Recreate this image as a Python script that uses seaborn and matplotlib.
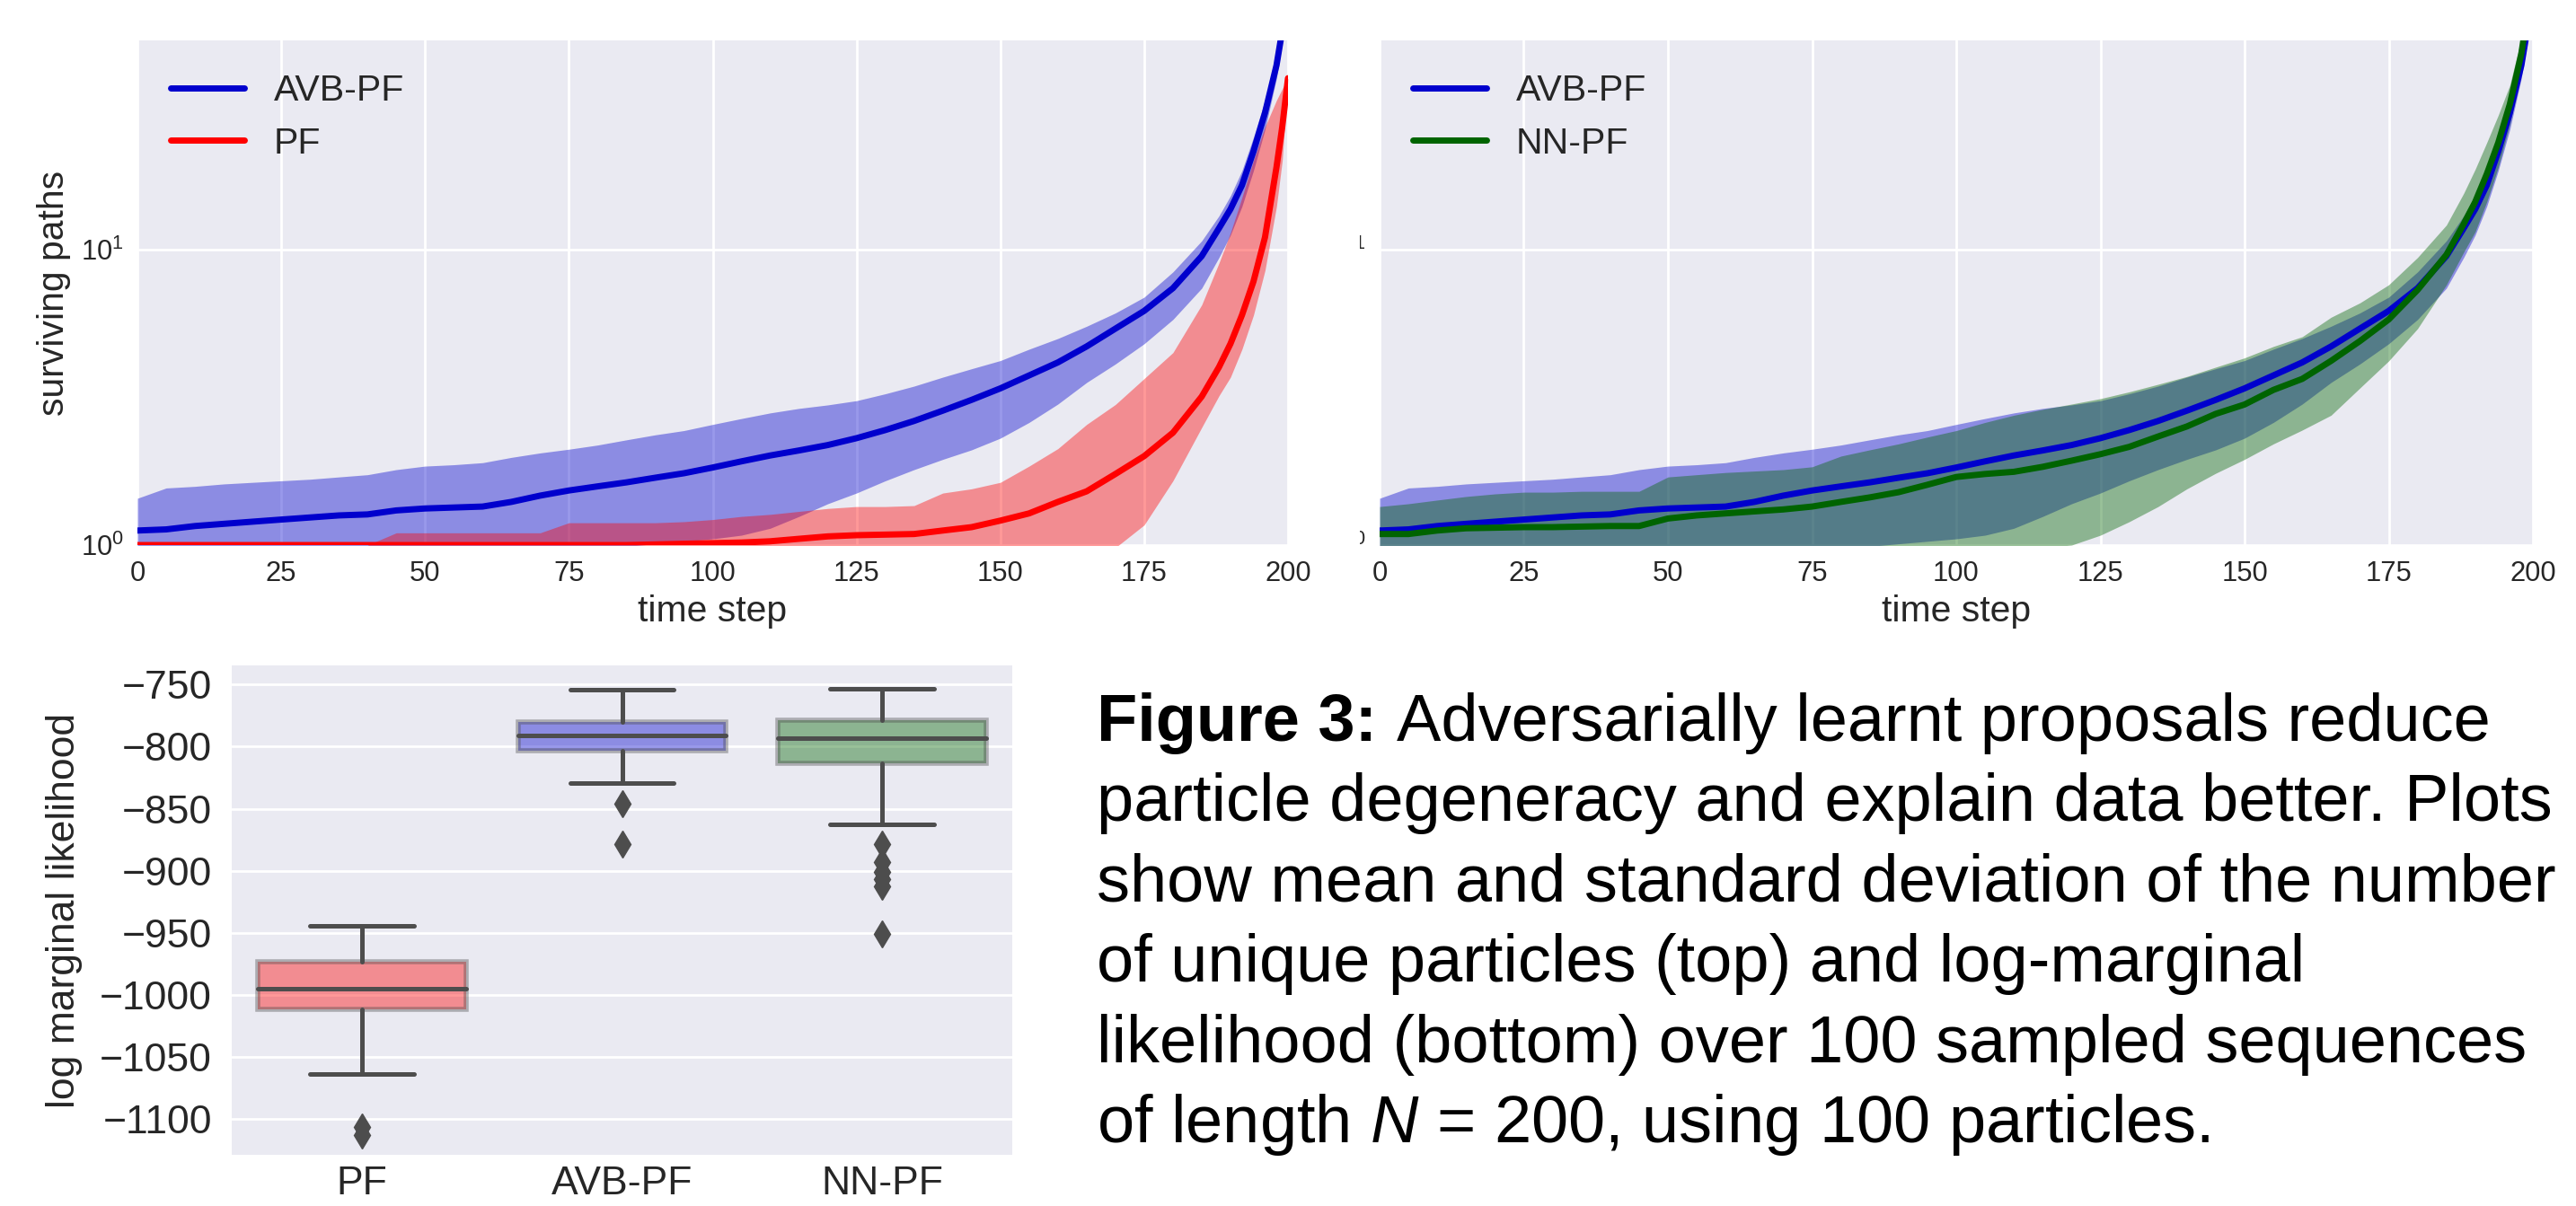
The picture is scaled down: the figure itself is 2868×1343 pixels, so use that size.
import numpy as np
import pandas as pd
import matplotlib
matplotlib.use("Agg")
import matplotlib.pyplot as plt
import seaborn as sns
from matplotlib.transforms import Bbox, TransformedBbox

# ---------------- data ----------------
t = [0, 5, 10, 15, 20, 25, 30, 35, 40, 45, 50, 55, 60, 65, 70, 75, 80, 85, 90, 95,
     100, 105, 110, 115, 120, 125, 130, 135, 140, 145, 150, 155, 160, 165, 170, 175,
     180, 185, 188, 190, 192, 194, 196, 198, 199, 200]

avb_mean = [1.12, 1.13, 1.16, 1.18, 1.20, 1.22, 1.24, 1.26, 1.27, 1.31,
            1.33, 1.34, 1.35, 1.40, 1.47, 1.53, 1.58, 1.63, 1.69, 1.75,
            1.83, 1.92, 2.01, 2.09, 2.18, 2.30, 2.45, 2.63, 2.85, 3.10,
            3.39, 3.75, 4.15, 4.70, 5.40, 6.20, 7.40, 9.50,
            11.8, 13.7, 16.5, 21.5, 29.0, 42.0, 55.0, 100.0]
avb_upper = [1.44, 1.56, 1.58, 1.61, 1.63, 1.65, 1.67, 1.70, 1.73, 1.80,
             1.85, 1.87, 1.90, 1.98, 2.05, 2.11, 2.18, 2.27, 2.36, 2.44,
             2.56, 2.68, 2.80, 2.90, 2.98, 3.08, 3.25, 3.45, 3.70, 3.95,
             4.21, 4.60, 5.00, 5.50, 6.10, 6.90, 8.40, 10.7,
             13.0, 15.2, 18.5, 24.0, 32.0, 46.0, 60.0, 100.0]
avb_lower = [0.80, 0.72, 0.74, 0.75, 0.77, 0.79, 0.81, 0.82, 0.81, 0.82,
             0.81, 0.81, 0.80, 0.82, 0.89, 0.95, 0.98, 0.99, 1.01, 1.03,
             1.05, 1.08, 1.14, 1.25, 1.38, 1.50, 1.65, 1.80, 1.95, 2.10,
             2.30, 2.60, 3.00, 3.55, 4.10, 4.80, 5.80, 7.40,
             9.40, 11.2, 14.0, 18.5, 25.5, 38.0, 50.0, 100.0]

pf_mean = [1.0, 1.0, 1.0, 1.0, 1.0, 1.0, 1.0, 1.0, 1.0, 1.0,
           1.0, 1.0, 1.0, 1.0, 1.0, 1.0, 1.0, 1.0, 1.005, 1.01,
           1.015, 1.02, 1.03, 1.05, 1.07, 1.08, 1.085, 1.09, 1.12, 1.15,
           1.21, 1.28, 1.40, 1.52, 1.74, 2.00, 2.40, 3.18,
           4.0, 4.8, 6.0, 7.8, 11.0, 19.0, 26.0, 38.0]
pf_upper = [1.0, 1.0, 1.0, 1.0, 1.0, 1.0, 1.0, 1.0, 1.0, 1.10,
            1.10, 1.10, 1.10, 1.10, 1.10, 1.19, 1.19, 1.19, 1.19, 1.20,
            1.22, 1.25, 1.27, 1.30, 1.33, 1.35, 1.35, 1.36, 1.50, 1.55,
            1.63, 1.85, 2.12, 2.56, 2.99, 3.66, 4.48, 6.50,
            9.0, 11.4, 15.0, 20.0, 26.0, 32.0, 35.0, 38.0]
pf_lower = [1.0, 1.0, 1.0, 1.0, 1.0, 1.0, 1.0, 1.0, 1.0, 0.90,
            0.90, 0.90, 0.90, 0.90, 0.90, 0.90, 0.90, 0.90, 0.90, 0.90,
            0.90, 0.90, 0.90, 0.90, 0.90, 0.90, 0.90, 0.90, 0.90, 0.90,
            0.90, 0.90, 0.90, 0.90, 0.98, 1.17, 1.65, 2.50,
            3.2, 3.7, 4.6, 6.0, 8.5, 14.0, 20.0, 38.0]

nn_mean = [1.09, 1.09, 1.12, 1.14, 1.145, 1.15, 1.15, 1.155, 1.16, 1.16,
           1.23, 1.26, 1.28, 1.30, 1.32, 1.35, 1.40, 1.45, 1.51, 1.60,
           1.70, 1.74, 1.77, 1.84, 1.93, 2.03, 2.15, 2.33, 2.52, 2.78,
           2.99, 3.35, 3.65, 4.20, 4.90, 5.80, 7.30, 9.60,
           12.2, 14.5, 18.0, 23.0, 31.0, 46.0, 62.0, 100.0]
nn_upper = [1.35, 1.38, 1.42, 1.46, 1.49, 1.51, 1.51, 1.52, 1.52, 1.52,
            1.70, 1.73, 1.76, 1.78, 1.80, 1.84, 2.00, 2.10, 2.20, 2.32,
            2.44, 2.60, 2.75, 2.88, 3.00, 3.13, 3.30, 3.50, 3.72, 4.00,
            4.30, 4.70, 5.07, 5.90, 6.60, 7.60, 9.40, 12.1,
            15.5, 18.7, 23.0, 28.5, 36.0, 52.0, 70.0, 100.0]
nn_lower = [0.83, 0.80, 0.82, 0.82, 0.80, 0.79, 0.79, 0.79, 0.80, 0.80,
            0.76, 0.79, 0.80, 0.82, 0.84, 0.86, 0.80, 0.80, 0.82, 0.88,
            0.93, 0.95, 0.96, 0.98, 1.00, 1.08, 1.20, 1.35, 1.55, 1.75,
            1.95, 2.20, 2.45, 2.75, 3.40, 4.20, 5.40, 7.60,
            9.8, 11.5, 14.5, 19.0, 26.5, 40.0, 54.0, 100.0]

x_ticks = [0, 25, 50, 75, 100, 125, 150, 175, 200]

box_labels = ["PF", "AVB-PF", "NN-PF"]
box_whislo = [-1063.6, -829.4, -862.6]
box_q1 = [-1011.7, -803.6, -813.1]
box_med = [-994.5, -791.2, -793.3]
box_q3 = [-973.2, -780.0, -778.5]
box_whishi = [-944.4, -754.4, -753.3]
box_fliers = [[-1106.5, -1112.5],
              [-845.7, -878.3],
              [-878.3, -893.2, -900.6, -906.5, -912.4, -950.9]]
box_yticks = [-750, -800, -850, -900, -950, -1000, -1050, -1100]

caption_head = "Figure 3:"
caption_lines = [
    "Adversarially learnt proposals reduce",
    "particle degeneracy and explain data better. Plots",
    "show mean and standard deviation of the number",
    "of unique particles (top) and log-marginal",
    "likelihood (bottom) over 100 sampled sequences",
    "of length $N$ = 200, using 100 particles.",
]

# ---------------- style ----------------
sns.set_theme(style="darkgrid")
plt.rcParams['font.family'] = ['Liberation Sans', 'DejaVu Sans']
plt.rcParams['mathtext.fontset'] = 'custom'
plt.rcParams['mathtext.rm'] = 'Liberation Sans'
plt.rcParams['mathtext.it'] = 'Liberation Sans:italic'
plt.rcParams['mathtext.bf'] = 'Liberation Sans:bold'
plt.rcParams['grid.linewidth'] = 2.0
plt.rcParams['axes.facecolor'] = '#EAEAF2'

BLUE = (0.0, 0.0, 205 / 255)
RED = (1.0, 0.0, 0.0)
GREEN = (0.0, 100 / 255, 0.0)
TXT = '.15'

W, H = 2868, 1343
fig = plt.figure(figsize=(W / 100, H / 100), dpi=100)

ax1 = fig.add_axes([153 / W, 1 - 607 / H, (1434 - 153) / W, (607 - 45) / H])
ax2 = fig.add_axes([1536 / W, 1 - 607 / H, (2820 - 1536) / W, (607 - 45) / H])
ax3 = fig.add_axes([258 / W, 1 - 1286 / H, (1127 - 258) / W, (1286 - 741) / H])

LW = 5.0
TOP_TICK = 22.3
TOP_LAB = 29.4

def style_top(ax):
    ax.set_yscale('log')
    ax.set_xlim(0, 200)
    ax.set_ylim(1, 51)
    ax.set_xticks(x_ticks)
    ax.set_yticks([1, 10])
    ax.yaxis.set_minor_locator(matplotlib.ticker.NullLocator())
    ax.tick_params(axis='x', labelsize=TOP_TICK, pad=12.5, length=0, colors=TXT)
    ax.tick_params(axis='y', labelsize=TOP_TICK, pad=11.0, length=0, colors=TXT)
    ax.set_xlabel("time step", fontsize=TOP_LAB, color=TXT)
    ax.xaxis.set_label_coords(0.5, -0.098)
    for s in ax.spines.values():
        s.set_visible(False)

LEG = dict(loc='upper left', frameon=False, fontsize=29.5, handlelength=2.0,
           labelspacing=0.51, borderaxespad=0.5, borderpad=0.4)

# ---- top-left: AVB-PF vs PF
ax1.fill_between(t, avb_lower, avb_upper, color=BLUE, alpha=0.4, lw=0)
ax1.fill_between(t, pf_lower, pf_upper, color=RED, alpha=0.4, lw=0)
sns.lineplot(x=t, y=avb_mean, ax=ax1, color=BLUE, lw=LW, label="AVB-PF")
sns.lineplot(x=t, y=pf_mean, ax=ax1, color=RED, lw=LW, label="PF")
style_top(ax1)
ax1.set_ylabel("surviving paths", fontsize=TOP_LAB, color=TXT)
ax1.yaxis.set_label_coords(-0.0578, 0.5)
ax1.legend(**LEG)

# ---- top-right: AVB-PF vs NN-PF
ax2.fill_between(t, avb_lower, avb_upper, color=BLUE, alpha=0.4, lw=0)
ax2.fill_between(t, nn_lower, nn_upper, color=GREEN, alpha=0.4, lw=0)
sns.lineplot(x=t, y=avb_mean, ax=ax2, color=BLUE, lw=LW, label="AVB-PF")
sns.lineplot(x=t, y=nn_mean, ax=ax2, color=GREEN, lw=LW, label="NN-PF")
style_top(ax2)
ax2.set_ylabel("")
ax2.legend(**LEG)
clip = TransformedBbox(Bbox([[1514 / W, 0.0], [1.0, 1.0]]), fig.transFigure)
for lab in ax2.get_yticklabels():
    lab.set_clip_box(clip)
    lab.set_clip_on(True)

# ---- bottom: boxplot
stats = []
for i in range(3):
    stats.append(dict(label=box_labels[i], whislo=box_whislo[i], q1=box_q1[i],
                      med=box_med[i], q3=box_q3[i], whishi=box_whishi[i],
                      fliers=box_fliers[i]))
box_cols = [RED, BLUE, GREEN]
LC = (0.30, 0.30, 0.30)
bp = ax3.bxp(stats, positions=[0, 1, 2], widths=0.8, capwidths=0.4,
             patch_artist=True, showfliers=True,
             medianprops=dict(color=LC, lw=3.6, solid_capstyle='round'),
             whiskerprops=dict(color=LC, lw=3.6, solid_capstyle='round'),
             capprops=dict(color=LC, lw=3.6, solid_capstyle='round'),
             flierprops=dict(marker='d', markersize=15, markerfacecolor=LC,
                             markeredgecolor=LC, linestyle='none'))
for patch, c in zip(bp['boxes'], box_cols):
    patch.set_facecolor((c[0], c[1], c[2], 0.4))
    patch.set_edgecolor((0.3, 0.3, 0.3, 0.4))
    patch.set_linewidth(4.0)
ax3.set_xlim(-0.5, 2.5)
ax3.set_ylim(-1128.6, -734.6)
ax3.set_yticks(box_yticks)
ax3.set_xticks([0, 1, 2], box_labels)
ax3.grid(axis='x', visible=False)
ax3.grid(axis='y', color='white', lw=2.0)
ax3.tick_params(axis='x', labelsize=32, pad=9, length=0, colors=TXT)
ax3.tick_params(axis='y', labelsize=32, pad=15.8, length=0, colors=TXT)
ax3.set_ylabel("log marginal likelihood", fontsize=32, color=TXT)
ax3.yaxis.set_label_coords(-0.191, 0.5)
for s in ax3.spines.values():
    s.set_visible(False)

# ---- caption
CAP = 53.3
x0 = 1221 / W
base0 = 825
step = 89.4
renderer = fig.canvas.get_renderer()
head = fig.text(x0, 1 - base0 / H, caption_head, fontsize=CAP, weight='bold',
                va='baseline', ha='left', color='black')
bb = head.get_window_extent(renderer=renderer)
space_px = 0.30 * CAP * 100 / 72
fig.text((bb.x1 + space_px) / W, 1 - base0 / H, caption_lines[0], fontsize=CAP,
         va='baseline', ha='left', color='black')
for i, line in enumerate(caption_lines[1:], start=1):
    fig.text(x0, 1 - (base0 + i * step) / H, line, fontsize=CAP,
             va='baseline', ha='left', color='black')

fig.savefig("out.png", dpi=100)
